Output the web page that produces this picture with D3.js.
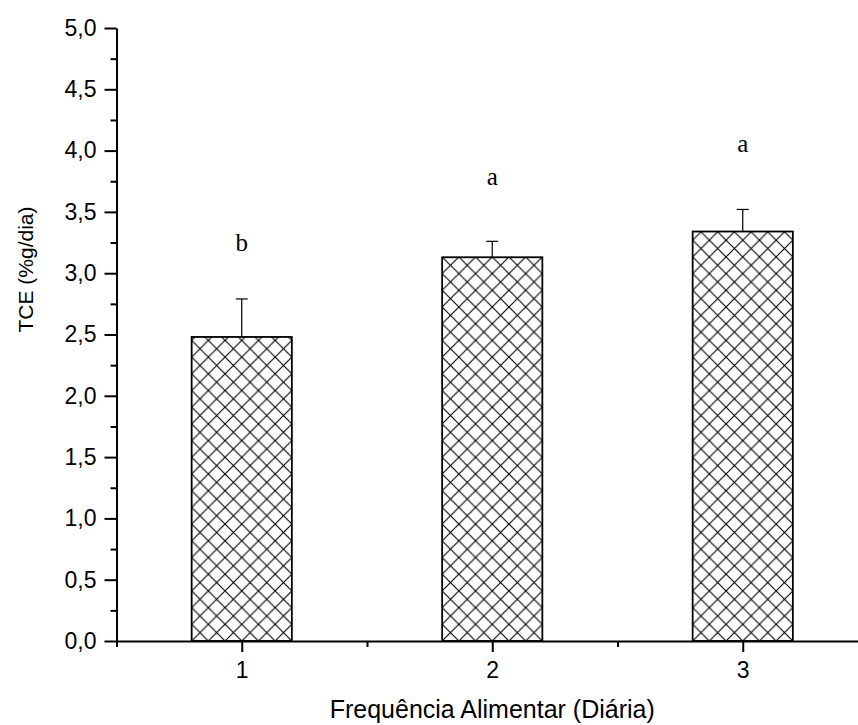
<!DOCTYPE html>
<html>
<head>
<meta charset="utf-8">
<script src="https://cdn.jsdelivr.net/npm/d3@7"></script>
<style>
  body { margin: 0; background: #fff; }
  svg { display: block; }
  text { font-family: Arial, "Liberation Sans", sans-serif; }
</style>
</head>
<body>
<div id="chart"></div>
<script>
// data
const categories = [1, 2, 3];
const means = [2.48, 3.13, 3.34];
const errors = [0.31, 0.13, 0.18];
const letters = ['b', 'a', 'a'];
const letterAt = [3.18, 3.72, 3.99];   // baseline height of the letters, in y units
const yTicks = [0, 0.5, 1, 1.5, 2, 2.5, 3, 3.5, 4, 4.5, 5];
const yMinor = [0.25, 0.75, 1.25, 1.75, 2.25, 2.75, 3.25, 3.75, 4.25, 4.75];
const xMinor = [0.5, 1.5, 2.5, 3.5];

const width = 858, height = 725;
const svg = d3.select('#chart').append('svg')
    .attr('width', width).attr('height', height);

const x = d3.scaleLinear().domain([0.5, 3.5]).range([116.5, 868]);
const y = d3.scaleLinear().domain([0, 5]).range([641, 28]);
const barW = x(1.4) - x(1);

const comma = d => d3.format('.1f')(d).replace('.', ',');

// crosshatch
const defs = svg.append('defs');
const pat = defs.append('pattern')
    .attr('id', 'hatch').attr('patternUnits', 'userSpaceOnUse')
    .attr('width', 16.7).attr('height', 16.7)
    .attr('x', x(1) - barW / 2).attr('y', y(0));
pat.append('rect').attr('width', 16.7).attr('height', 16.7).attr('fill', '#fff');
pat.append('path')
    .attr('d', 'M0,0L16.7,16.7M16.7,0L0,16.7')
    .attr('stroke', '#000').attr('stroke-width', 1.1);

const data = categories.map((c, i) => ({c, m: means[i], e: errors[i], l: letters[i], ly: letterAt[i]}));

// error bars (up only)
const err = svg.append('g').attr('stroke', '#000').attr('stroke-width', 1.2);
err.selectAll('line.v').data(data).join('line').classed('v', true)
    .attr('x1', d => x(d.c)).attr('x2', d => x(d.c))
    .attr('y1', d => y(d.m)).attr('y2', d => y(d.m + d.e));
err.selectAll('line.cap').data(data).join('line').classed('cap', true)
    .attr('x1', d => x(d.c) - 6).attr('x2', d => x(d.c) + 6)
    .attr('y1', d => y(d.m + d.e)).attr('y2', d => y(d.m + d.e));

// bars
svg.append('g').selectAll('rect').data(data).join('rect')
    .attr('x', d => x(d.c) - barW / 2)
    .attr('y', d => y(d.m))
    .attr('width', barW)
    .attr('height', d => y(0) - y(d.m))
    .attr('fill', 'url(#hatch)')
    .attr('stroke', '#000').attr('stroke-width', 1.8);

// significance letters
svg.append('g').selectAll('text').data(data).join('text')
    .attr('x', d => x(d.c)).attr('y', d => y(d.ly))
    .attr('text-anchor', 'middle')
    .style('font-family', '"Liberation Serif", "Times New Roman", serif')
    .style('font-size', '25px')
    .text(d => d.l);

// axes
function styleAxis(g) {
    g.select('.domain').attr('stroke-width', 2);
    g.selectAll('.tick line').attr('stroke-width', 2);
    g.selectAll('.tick text').style('font-size', '23px').attr('fill', '#000');
}

svg.append('g').attr('transform', `translate(${x(0.5)},0)`)
    .call(d3.axisLeft(y).tickValues(yMinor).tickSize(6).tickFormat(''))
    .call(g => g.select('.domain').remove())
    .call(g => g.selectAll('.tick line').attr('stroke-width', 2));
svg.append('g').attr('transform', `translate(${x(0.5)},0)`)
    .call(d3.axisLeft(y).tickValues(yTicks).tickSize(12).tickSizeOuter(0).tickPadding(8).tickFormat(comma))
    .call(styleAxis);

svg.append('g').attr('transform', `translate(0,${y(0)})`)
    .call(d3.axisBottom(x).tickValues(xMinor).tickSize(6).tickFormat(''))
    .call(g => g.select('.domain').remove())
    .call(g => g.selectAll('.tick line').attr('stroke-width', 2));
svg.append('g').attr('transform', `translate(0,${y(0)})`)
    .call(d3.axisBottom(x).tickValues(categories).tickSize(11).tickSizeOuter(0).tickPadding(10).tickFormat(d3.format('d')))
    .call(styleAxis);

// axis titles
svg.append('text')
    .attr('transform', `translate(33,${y(3.03)}) rotate(-90)`)
    .attr('text-anchor', 'middle')
    .style('font-size', '21px')
    .text('TCE (%g/dia)');
svg.append('text')
    .attr('x', x(2)).attr('y', 718)
    .attr('text-anchor', 'middle')
    .style('font-size', '25px')
    .text('Frequência Alimentar (Diária)');
</script>
</body>
</html>
